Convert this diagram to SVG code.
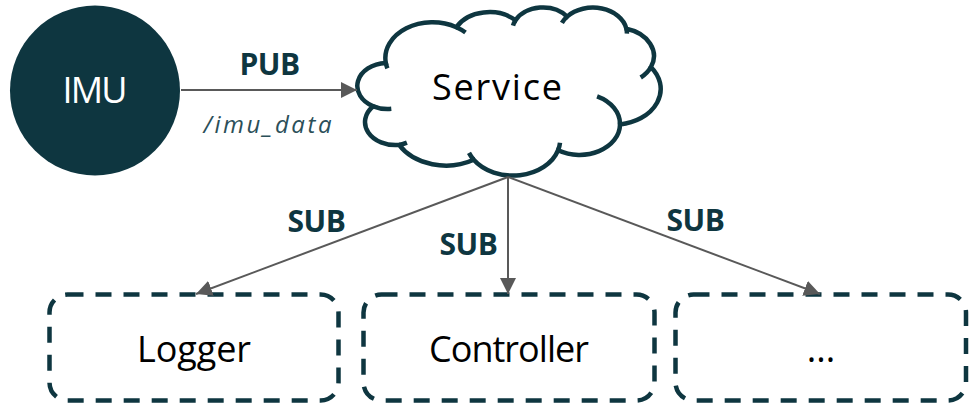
<svg xmlns="http://www.w3.org/2000/svg" width="969" height="407" viewBox="0 0 969 407">
  <defs>
    <style>
      .lbl { font-family: "Open Sans", "Liberation Sans", sans-serif; fill: #000; font-size: 36px; text-anchor: middle; }
      .tag { font-family: "Open Sans", "Liberation Sans", sans-serif; font-weight: bold; fill: #0e3640; font-size: 30px; letter-spacing: -0.5px; text-anchor: middle; }
      .topic { font-family: "Open Sans", "Liberation Sans", sans-serif; font-style: italic; fill: #2b4f59; font-size: 24px; text-anchor: middle; }
      .box { fill: #fff; stroke: #0e3640; stroke-width: 4.5; stroke-dasharray: 16 12; }
      .cloud { fill: none; stroke: #0e3640; stroke-width: 4.5; stroke-linecap: butt; }
      .edge { fill: none; stroke: #595959; stroke-width: 2; }
    </style>
    <marker id="arrow" markerUnits="userSpaceOnUse" markerWidth="16" markerHeight="16" viewBox="0 0 16 16" refX="16" refY="8" orient="auto">
      <path d="M0,0 L16,8 L0,16 Z" fill="#595959"/>
    </marker>
  </defs>

  <!-- publisher -->
  <g id="imu">
    <circle cx="95" cy="90.5" r="85" fill="#0e3640"/>
    <text class="lbl" x="95" y="103" style="fill:#fff" textLength="65">IMU</text>
  </g>

  <!-- broker cloud: outer outline plus the short inner lobe strokes -->
  <g id="service">
    <path class="cloud" style="fill:#fff" d="M385.8,62.9
      A47.2,35.7 0 0 1 456.4,27.2
      A37.3,28.3 0 0 1 515.5,20.3
      A30.5,23.1 0 0 1 567.1,16.6
      A34.0,25.6 0 0 1 626.4,28.7
      A37.3,28.3 0 0 1 650.9,67.1
      A47.4,35.9 0 0 1 620.0,124.5
      A40.4,30.6 0 0 1 558.1,150.2
      A47.2,35.8 0 0 1 473.7,159.7
      A54.0,41.0 0 0 1 399.1,144.9
      A30.5,23.0 0 0 1 373.3,106.3
      A30.4,23.1 0 0 1 385.8,62.9 Z"/>
    <path class="cloud" d="M391.3,108.8 A30.4,23.1 0 0 1 373.3,106.3
      M406.9,142.7 A30.5,23.0 0 0 1 399.1,144.9
      M473.7,159.7 A47.2,35.8 0 0 1 469.0,152.9
      M560.0,142.7 A47.2,35.8 0 0 1 558.1,150.2
      M597.1,96.3 A40.4,30.6 0 0 1 620.0,124.5
      M650.9,67.1 A37.3,28.3 0 0 1 640.7,77.5
      M626.4,28.7 A34.0,25.6 0 0 1 626.9,33.6
      M561.9,22.9 A34.0,25.6 0 0 1 567.1,16.6
      M513.0,25.7 A30.5,23.1 0 0 1 515.5,20.3
      M456.4,27.2 A47.2,35.7 0 0 1 465.5,32.5
      M387.4,68.4 A47.2,35.7 0 0 1 385.8,62.9"/>
    <text class="lbl" x="497" y="100" textLength="130">Service</text>
  </g>

  <!-- subscribers -->
  <g id="logger">
    <rect class="box" x="49.5" y="294.5" width="289" height="106" rx="18"/>
    <text class="lbl" x="194" y="362" textLength="114">Logger</text>
  </g>
  <g id="controller">
    <rect class="box" x="363.5" y="294.5" width="291" height="106" rx="18"/>
    <text class="lbl" x="509" y="362" textLength="160">Controller</text>
  </g>
  <g id="more">
    <rect class="box" x="675.5" y="294.5" width="290.5" height="106" rx="18"/>
    <text class="lbl" x="821" y="362">...</text>
  </g>

  <!-- topic connections -->
  <g id="connectors">
    <line class="edge" x1="181" y1="90" x2="357" y2="90" marker-end="url(#arrow)"/>
    <line class="edge" x1="508" y1="177" x2="196" y2="294" marker-end="url(#arrow)"/>
    <line class="edge" x1="508" y1="177" x2="508" y2="294" marker-end="url(#arrow)"/>
    <line class="edge" x1="508" y1="177" x2="820" y2="294" marker-end="url(#arrow)"/>
    <text class="tag" x="269.5" y="75">PUB</text>
    <text class="topic" x="267.5" y="133" textLength="128">/imu_data</text>
    <text class="tag" x="316.5" y="232">SUB</text>
    <text class="tag" x="468.5" y="255">SUB</text>
    <text class="tag" x="695.5" y="231">SUB</text>
  </g>
</svg>
